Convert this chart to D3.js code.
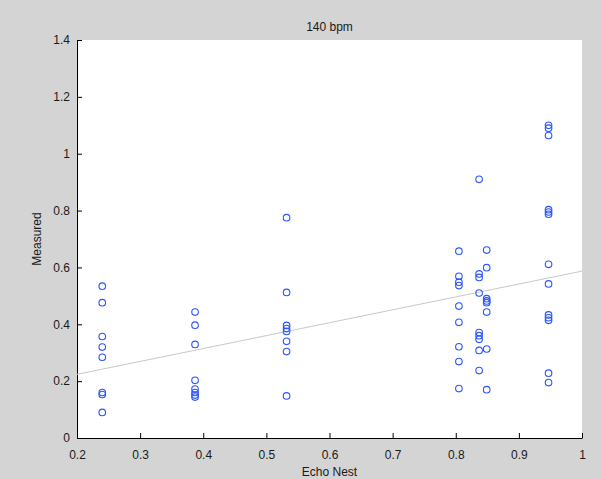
<!DOCTYPE html>
<html>
<head>
<meta charset="utf-8">
<script src="https://cdn.jsdelivr.net/npm/d3@7"></script>
<style>
  body { margin: 0; background: #d4d4d4; }
  svg { display: block; }
  text { font-family: "Liberation Sans", Arial, sans-serif; fill: #1a1a1a; }
</style>
</head>
<body>
<div id="chart"></div>
<script>
// DATA //
// echo nest tempo confidence (x) for each column of points
const columnX = [0.24, 0.387, 0.532, 0.805, 0.837, 0.849, 0.947]

// measured values per column
const measured = [
    [0.534, 0.476, 0.357, 0.320, 0.284, 0.160, 0.153, 0.090],
    [0.443, 0.397, 0.329, 0.203, 0.172, 0.160, 0.151, 0.144],
    [0.775, 0.512, 0.396, 0.385, 0.375, 0.340, 0.304, 0.148],
    [0.657, 0.569, 0.548, 0.536, 0.464, 0.407, 0.321, 0.269, 0.174],
    [0.910, 0.577, 0.565, 0.510, 0.371, 0.360, 0.347, 0.308, 0.237],
    [0.661, 0.599, 0.490, 0.482, 0.476, 0.443, 0.313, 0.170],
    [1.100, 1.090, 1.064, 0.803, 0.795, 0.787, 0.611, 0.542, 0.433, 0.423, 0.414, 0.228, 0.195],
]

// fitted line end points
const fitLine = [[0.2, 0.224], [1.0, 0.587]]

const xTicks = [0.2, 0.3, 0.4, 0.5, 0.6, 0.7, 0.8, 0.9, 1]
const yTicks = [0, 0.2, 0.4, 0.6, 0.8, 1, 1.2, 1.4]

const titleText = "140 bpm"
const xLabelText = "Echo Nest"
const yLabelText = "Measured"

// dimensions
let dimensions = {
    width: 602,
    height: 479,
    margin: { top: 40, right: 20, bottom: 41, left: 77 },
}
dimensions.boundedWidth = dimensions.width - dimensions.margin.left - dimensions.margin.right
dimensions.boundedHeight = dimensions.height - dimensions.margin.top - dimensions.margin.bottom

const points = []
columnX.forEach((x, i) => measured[i].forEach(y => points.push({ x: x, y: y })))

const xScale = d3.scaleLinear().domain([0.2, 1]).range([0, dimensions.boundedWidth])
const yScale = d3.scaleLinear().domain([0, 1.4]).range([dimensions.boundedHeight, 0])

const svg = d3.select("#chart").append("svg")
    .attr("width", dimensions.width)
    .attr("height", dimensions.height)

svg.append("rect")
    .attr("width", dimensions.width)
    .attr("height", dimensions.height)
    .attr("fill", "#d4d4d4")

const bounds = svg.append("g")
    .attr("transform", `translate(${dimensions.margin.left},${dimensions.margin.top})`)

bounds.append("rect")
    .attr("width", dimensions.boundedWidth)
    .attr("height", dimensions.boundedHeight)
    .attr("fill", "white")

// axes, ticks pointing inward like matlab
const xAxis = bounds.append("g")
    .attr("transform", `translate(0,${dimensions.boundedHeight})`)
    .call(d3.axisBottom(xScale).tickValues(xTicks).tickSizeInner(-5).tickSizeOuter(0)
        .tickPadding(12).tickFormat(d3.format("")))

const yAxis = bounds.append("g")
    .call(d3.axisLeft(yScale).tickValues(yTicks).tickSizeInner(-5).tickSizeOuter(0)
        .tickPadding(7).tickFormat(d3.format("")))

svg.selectAll(".domain, .tick line").attr("stroke", "#000")
svg.selectAll(".tick text")
    .style("font-size", "12px")
    .attr("fill", "#1a1a1a")

// fit line
bounds.append("line")
    .attr("x1", xScale(fitLine[0][0]))
    .attr("y1", yScale(fitLine[0][1]))
    .attr("x2", xScale(fitLine[1][0]))
    .attr("y2", yScale(fitLine[1][1]))
    .attr("stroke", "#c8c8c8")
    .attr("stroke-width", 1)

// points
bounds.selectAll("circle")
    .data(points)
    .join("circle")
    .attr("cx", d => xScale(d.x))
    .attr("cy", d => yScale(d.y))
    .attr("r", 3.3)
    .attr("fill", "none")
    .attr("stroke", "#2a55ff")
    .attr("stroke-width", 1.1)

// labels
svg.append("text")
    .attr("x", dimensions.margin.left + dimensions.boundedWidth / 2)
    .attr("y", 31)
    .attr("text-anchor", "middle")
    .style("font-size", "12px")
    .text(titleText)

svg.append("text")
    .attr("x", dimensions.margin.left + dimensions.boundedWidth / 2)
    .attr("y", 476)
    .attr("text-anchor", "middle")
    .style("font-size", "12px")
    .text(xLabelText)

svg.append("text")
    .attr("transform", `translate(41,${dimensions.margin.top + dimensions.boundedHeight / 2}) rotate(-90)`)
    .attr("text-anchor", "middle")
    .style("font-size", "12px")
    .text(yLabelText)
</script>
</body>
</html>
